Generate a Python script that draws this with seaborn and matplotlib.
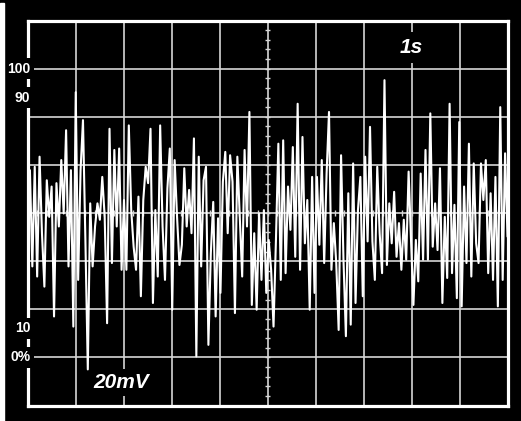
import numpy as np
import pandas as pd
import matplotlib
matplotlib.use('Agg')
import matplotlib.pyplot as plt
import seaborn as sns

# Trace values in screen divisions (0 = bottom edge, 8 = top edge)
trace_part1 = [4.27, 4.89, 2.89, 4.96, 2.68, 5.17, 3.58, 2.47, 4.68, 3.92,
               4.55, 1.85, 4.62, 3.72, 5.10, 3.99, 5.72, 2.89, 4.89, 1.64,
               6.51, 2.61, 4.89, 5.93, 3.44, 0.75, 4.20, 2.89, 3.72, 4.20,
               3.86, 4.75, 3.92, 1.71, 5.75, 2.96, 5.31, 3.72, 5.34, 2.82,
               4.27, 2.82, 5.82, 4.06, 3.30, 2.82, 4.34, 2.27, 4.27, 4.96]
trace_part2 = [4.62, 5.75, 2.13, 4.06, 2.68, 5.82, 3.72, 2.61, 4.51, 5.34,
               1.99, 5.10, 3.92, 2.92, 3.34, 4.93, 3.72, 4.48, 3.58, 5.55,
               1.02, 5.17, 2.89, 4.68, 4.96, 1.26, 3.16, 4.23, 1.85, 3.89,
               2.34, 4.65, 5.27, 3.58, 5.20, 4.65, 1.92, 5.17, 3.92, 2.68,
               5.31, 3.72, 6.10, 2.09, 3.58, 1.99, 3.99, 2.61, 4.06, 2.34]
trace_part3 = [3.44, 2.82, 1.64, 3.44, 5.44, 2.61, 5.51, 2.75, 4.55, 3.65,
               5.37, 3.09, 6.27, 2.82, 5.58, 3.37, 4.27, 1.99, 4.75, 2.34,
               4.75, 3.34, 5.10, 2.96, 4.82, 6.10, 2.82, 3.79, 2.96, 1.57,
               5.20, 3.03, 1.44, 4.41, 1.68, 5.03, 2.13, 4.06, 4.75, 2.27,
               5.17, 3.41, 5.79, 3.41, 2.61, 4.96, 3.58, 2.75, 6.76, 2.92]
trace_part4 = [4.20, 3.37, 4.44, 3.09, 3.79, 2.82, 3.86, 3.03, 4.86, 3.44,
               2.09, 3.44, 2.58, 4.82, 3.03, 5.31, 3.03, 6.07, 3.30, 4.20,
               3.23, 4.93, 2.13, 3.92, 2.65, 6.27, 2.75, 4.17, 2.23, 5.89,
               2.06, 4.55, 2.96, 5.44, 2.68, 5.03, 3.37, 2.96, 5.03, 4.27,
               5.10, 2.75, 4.41, 2.61, 4.75, 2.06, 6.20, 2.61, 5.24, 3.51]

level_labels = ['100', '90', '10', '0%']
level_pos = [7.0, 6.4, 1.6, 1.0]
time_label = '1s'
volt_label = '20mV'

trace = trace_part1 + trace_part2 + trace_part3 + trace_part4
n = len(trace)
time_div = np.arange(n) * 10.0 / (n - 1)
df = pd.DataFrame({'t': time_div, 'v': trace})

sns.set_theme(style='dark', rc={'axes.facecolor': 'black', 'figure.facecolor': 'black'})
plt.rcParams['font.family'] = ['Liberation Sans', 'DejaVu Sans']

W, H = 521, 421
fig = plt.figure(figsize=(W / 100, H / 100), dpi=100)
# thin white strip at the left edge
fig.patches.append(plt.Rectangle((0, 0), 4 / W, 418 / H, transform=fig.transFigure,
                                 color='white', zorder=0))
ax = fig.add_axes([27.5 / W, 15.5 / H, 480 / W, 385 / H])
ax.set_facecolor('black')

# graticule
grid_c = '#d6d6d6'
for x in range(1, 10):
    ax.axvline(x, color=grid_c, lw=1.2, zorder=1)
for y in range(1, 8):
    ax.axhline(y, color=grid_c, lw=1.2, zorder=1)
ax.hlines(np.arange(0.2, 8, 0.2), 5 - 0.06, 5 + 0.06, color=grid_c, lw=1.0, zorder=1)
ax.vlines(np.arange(0.2, 10, 0.2), 4 - 0.06, 4 + 0.06, color=grid_c, lw=1.0, zorder=1)

sns.lineplot(data=df, x='t', y='v', color='white', lw=1.5, ax=ax, zorder=3)

ax.set_xlim(0, 10)
ax.set_ylim(0, 8)
ax.set_xticks([])
ax.set_yticks([])
ax.set_xlabel('')
ax.set_ylabel('')
ax.grid(False)
for s in ax.spines.values():
    s.set_color('white')
    s.set_linewidth(2.3)
    s.set_zorder(5)

box = dict(facecolor='black', edgecolor='none', pad=2.5)
for lab, y in zip(level_labels, level_pos):
    ax.text(0.06, y, lab, color='white', fontsize=10, fontweight='bold',
            ha='right', va='center', bbox=box, clip_on=False, zorder=6)

ax.text(8.0, 7.44, time_label, color='white', fontsize=15, fontweight='bold',
        fontstyle='italic', ha='center', va='center',
        bbox=dict(facecolor='black', edgecolor='none', pad=4), zorder=6)
ax.text(1.96, 0.48, volt_label, color='white', fontsize=15, fontweight='bold',
        fontstyle='italic', ha='center', va='center',
        bbox=dict(facecolor='black', edgecolor='none', pad=3), zorder=6)

fig.savefig('out.png', dpi=100, facecolor='black')
